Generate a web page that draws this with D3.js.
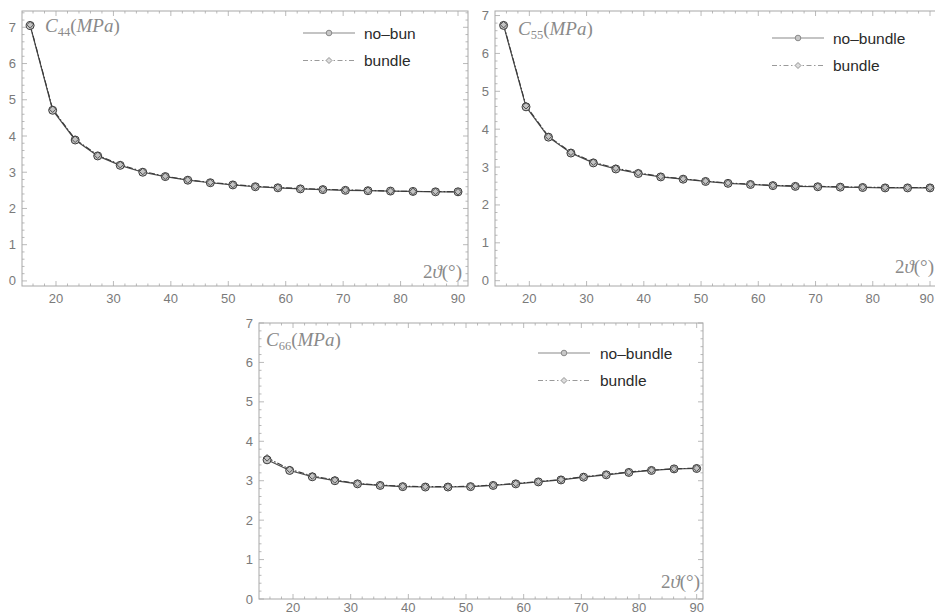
<!DOCTYPE html>
<html><head><meta charset="utf-8">
<script src="https://cdn.jsdelivr.net/npm/d3@7"></script>
<style>body{margin:0;background:#fff}svg{display:block}</style>
</head><body>
<svg id="c" width="935" height="615"></svg>
<script>
// ---- data ----
const angles = [15.5, 19.42, 23.34, 27.26, 31.18, 35.11, 39.03, 42.95, 46.87, 50.79,
                54.71, 58.63, 62.55, 66.47, 70.39, 74.32, 78.24, 82.16, 86.08, 90.0];
const c44NoBundle = [7.05, 4.71, 3.89, 3.45, 3.19, 3.00, 2.88, 2.78, 2.71, 2.65, 2.60, 2.57, 2.54, 2.52, 2.50, 2.49, 2.48, 2.47, 2.46, 2.46];
const c44Bundle   = [7.07, 4.74, 3.91, 3.47, 3.21, 3.02, 2.89, 2.79, 2.72, 2.66, 2.61, 2.58, 2.55, 2.53, 2.51, 2.50, 2.48, 2.47, 2.47, 2.46];
const c55NoBundle = [6.74, 4.59, 3.79, 3.37, 3.11, 2.95, 2.83, 2.74, 2.68, 2.62, 2.57, 2.54, 2.51, 2.49, 2.48, 2.47, 2.46, 2.45, 2.45, 2.45];
const c55Bundle   = [6.76, 4.62, 3.81, 3.39, 3.13, 2.97, 2.85, 2.75, 2.69, 2.63, 2.58, 2.55, 2.52, 2.50, 2.49, 2.48, 2.47, 2.46, 2.46, 2.46];
const c66NoBundle = [3.53, 3.26, 3.10, 3.00, 2.92, 2.88, 2.85, 2.84, 2.84, 2.85, 2.88, 2.92, 2.97, 3.02, 3.09, 3.15, 3.21, 3.26, 3.30, 3.31];
const c66Bundle   = [3.58, 3.29, 3.12, 3.02, 2.93, 2.89, 2.86, 2.85, 2.85, 2.86, 2.89, 2.93, 2.98, 3.03, 3.10, 3.16, 3.22, 3.27, 3.30, 3.32];
const xTickLabels = [20, 30, 40, 50, 60, 70, 80, 90];
const yTickLabels = [0, 1, 2, 3, 4, 5, 6, 7];
const legendNames = [["no\u2013bun", "bundle"], ["no\u2013bundle", "bundle"], ["no\u2013bundle", "bundle"]];
const subscripts = ["44", "55", "66"];

// ---- layout ----
const panels = [
  {x0:22, x1:468, y0:11, y1:286, xd:[14.08, 91.74], yd:[-0.14, 7.45], a:c44NoBundle, b:c44Bundle,
   leg:{x:303, y:33, tx:364}, lab:{x:45, y:32}, xl:{x:462, y:278}, xlOff:17},
  {x0:495, x1:941, y0:11, y1:286, xd:[14.0, 91.92], yd:[-0.14, 7.12], a:c55NoBundle, b:c55Bundle,
   leg:{x:772, y:38, tx:833}, lab:{x:518, y:35}, xl:{x:934, y:273}, xlOff:17},
  {x0:259, x1:703, y0:323, y1:599, xd:[14.1, 91.1], yd:[0, 7], a:c66NoBundle, b:c66Bundle,
   leg:{x:538, y:353, tx:600}, lab:{x:266, y:346}, xl:{x:700, y:588}, xlOff:13}
];

const svg = d3.select("#c");
const frameCol = "#a8a8a8", tickTxt = "#7a7a7a";
const W = 935;

panels.forEach((p, pi) => {
  const x = d3.scaleLinear().domain(p.xd).range([p.x0, p.x1]);
  const y = d3.scaleLinear().domain(p.yd).range([p.y1, p.y0]);
  const g = svg.append("g");

  // minor/major ticks (inward on all four sides)
  const xMinor = d3.range(16, 92, 2), yMinor = d3.range(0, 7.45, 0.2);
  const tk = g.append("g").attr("stroke", frameCol).attr("stroke-width", 0.8);
  xMinor.forEach(v => {
    if (v < p.xd[0] || v > p.xd[1]) return;
    const major = Math.abs(v % 10) < 1e-6;
    const L = major ? 5 : 2.5;
    tk.append("line").attr("x1", x(v)).attr("x2", x(v)).attr("y1", p.y1).attr("y2", p.y1 - L);
    tk.append("line").attr("x1", x(v)).attr("x2", x(v)).attr("y1", p.y0).attr("y2", p.y0 + L);
  });
  yMinor.forEach(v => {
    const vv = Math.round(v * 10) / 10;
    if (vv < p.yd[0] || vv > p.yd[1]) return;
    const major = Math.abs(vv - Math.round(vv)) < 1e-6;
    const L = major ? 5 : 2.5;
    tk.append("line").attr("y1", y(vv)).attr("y2", y(vv)).attr("x1", p.x0).attr("x2", p.x0 + L);
    tk.append("line").attr("y1", y(vv)).attr("y2", y(vv)).attr("x1", p.x1).attr("x2", p.x1 - L);
  });

  // frame
  g.append("rect").attr("x", p.x0).attr("y", p.y0).attr("width", p.x1 - p.x0).attr("height", p.y1 - p.y0)
    .attr("fill", "none").attr("stroke", frameCol).attr("stroke-width", 1);

  // tick labels
  g.selectAll(".xl").data(xTickLabels).join("text")
    .attr("x", d => (x(d) + 8 > W ? W - 1 : x(d)))
    .attr("text-anchor", d => (x(d) + 8 > W ? "end" : "middle"))
    .attr("y", p.y1 + p.xlOff)
    .attr("font-family", "Liberation Sans, Arial, sans-serif").attr("font-size", 13).attr("fill", tickTxt)
    .text(d => d);
  g.selectAll(".yl").data(yTickLabels).join("text")
    .attr("x", p.x0 - 6).attr("y", d => y(d) + 4.5).attr("text-anchor", "end")
    .attr("font-family", "Liberation Sans, Arial, sans-serif").attr("font-size", 13).attr("fill", tickTxt)
    .text(d => d);

  // lines
  const line = d3.line().x(d => x(d[0])).y(d => y(d[1]));
  const ptsA = angles.map((a, i) => [a, p.a[i]]);
  const ptsB = angles.map((a, i) => [a, p.b[i]]);
  g.append("path").attr("d", line(ptsA)).attr("fill", "none").attr("stroke", "#4a4a4a").attr("stroke-width", 1.2);
  g.append("path").attr("d", line(ptsB)).attr("fill", "none").attr("stroke", "#3a3a3a").attr("stroke-width", 1.1)
    .attr("stroke-dasharray", "6,2,1.5,2");

  // markers
  g.selectAll(".ma").data(ptsA).join("circle")
    .attr("cx", d => x(d[0])).attr("cy", d => y(d[1])).attr("r", 4)
    .attr("fill", "#c4c4c4").attr("stroke", "#3c3c3c").attr("stroke-width", 1);
  g.selectAll(".mb").data(ptsB).join("path")
    .attr("d", d => { const cx = x(d[0]), cy = y(d[1]), s = 3.3;
      return `M${cx},${cy - s}L${cx + s},${cy}L${cx},${cy + s}L${cx - s},${cy}Z`; })
    .attr("fill", "none").attr("stroke", "#444").attr("stroke-width", 0.9);

  // legend
  const L = p.leg;
  g.append("line").attr("x1", L.x).attr("x2", L.x + 52).attr("y1", L.y).attr("y2", L.y)
    .attr("stroke", "#8a8a8a").attr("stroke-width", 1.2);
  g.append("circle").attr("cx", L.x + 26).attr("cy", L.y).attr("r", 2.8)
    .attr("fill", "#c8c8c8").attr("stroke", "#8a8a8a").attr("stroke-width", 1);
  g.append("line").attr("x1", L.x).attr("x2", L.x + 52).attr("y1", L.y + 27.5).attr("y2", L.y + 27.5)
    .attr("stroke", "#9a9a9a").attr("stroke-width", 1).attr("stroke-dasharray", "5,2.5,1.5,2.5");
  g.append("path").attr("d", `M${L.x + 26},${L.y + 24.5}L${L.x + 29},${L.y + 27.5}L${L.x + 26},${L.y + 30.5}L${L.x + 23},${L.y + 27.5}Z`)
    .attr("fill", "#ddd").attr("stroke", "#8a8a8a").attr("stroke-width", 0.9);
  [0, 1].forEach(k => {
    g.append("text").attr("x", L.tx).attr("y", L.y + 5.5 + k * 27.5)
      .attr("font-family", "Liberation Sans, Arial, sans-serif").attr("font-size", 15.5).attr("fill", "#2a2a2a")
      .text(legendNames[pi][k]);
  });

  // y label C_xx(MPa)
  const t = g.append("text").attr("x", p.lab.x).attr("y", p.lab.y)
    .attr("font-family", "Liberation Serif, DejaVu Serif, serif").attr("font-size", 19).attr("fill", "#8a8a8a");
  t.append("tspan").attr("font-style", "italic").text("C");
  t.append("tspan").attr("font-size", 12.5).attr("dy", 4).text(subscripts[pi]);
  t.append("tspan").attr("dy", -4).text("(");
  t.append("tspan").attr("font-style", "italic").text("MPa");
  t.append("tspan").text(")");

  // x label 2θ(°)
  const xt = g.append("text").attr("x", p.xl.x).attr("y", p.xl.y).attr("text-anchor", "end")
    .attr("font-family", "Liberation Serif, DejaVu Serif, serif").attr("font-size", 19).attr("fill", "#8a8a8a");
  xt.append("tspan").text("2");
  xt.append("tspan").attr("font-style", "italic").text("\u03D1");
  xt.append("tspan").text("(\u00B0)");
});
</script>
</body></html>
